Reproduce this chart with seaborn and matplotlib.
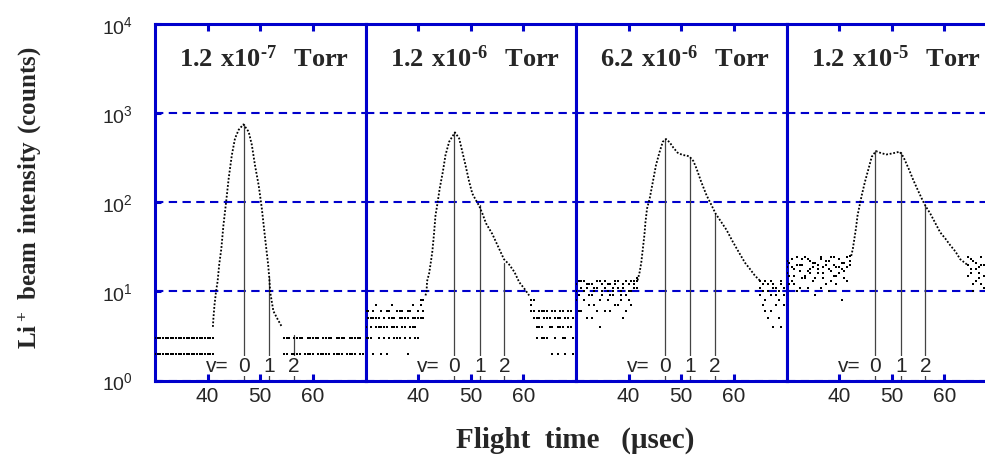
import numpy as np
import pandas as pd
import matplotlib
matplotlib.use('Agg')
import matplotlib.pyplot as plt
import seaborn as sns

# panel labels (gas pressure, Torr) as mantissa and negative exponent
press_mant = ['1.2', '1.2', '6.2', '1.2']
press_exp = ['7', '6', '6', '5']

# vibrational level arrival times (usec) and where each marker line meets the curve
v_labels = ['0', '1', '2']
v_times = [46.9, 51.7, 56.4]
v_tops = [[748, 14.5, 3.2],
          [608, 92, 21],
          [512, 318, 73],
          [372, 369, 93]]

# main TOF profile
p1_t = [41.0, 41.1, 41.3, 41.6, 41.9, 42.2, 42.6, 43.0, 43.5, 44.0, 44.6, 45.2, 45.9, 46.8,
        47.8, 48.4, 49.0, 49.7, 50.3, 51.0, 51.5, 51.7, 51.9, 52.2, 52.5, 53.2, 54.1]
p1_c = [4, 5, 7, 10, 13, 20, 30, 55, 99, 185, 338, 520, 650, 748,
        618, 440, 260, 155, 85, 36, 20, 14.5, 9.8, 7.6, 6, 5, 4]

p2_t = [41.4, 41.6, 41.7, 42.1, 42.4, 42.7, 43.0, 43.3, 43.7, 44.1, 44.7, 45.2, 45.9, 47.0,
        47.8, 48.4, 49.0, 49.7, 50.3, 51.0, 51.6, 52.2, 52.9, 54.1, 55.4, 56.3, 57.3, 58.3,
        59.2, 60.2, 61.1]
p2_c = [9, 10, 13, 16, 21, 28, 43, 71, 99, 143, 220, 338, 478, 608,
        520, 369, 261, 170, 125, 105, 91, 75, 58, 44, 30, 23, 20, 16.5,
        12.7, 10.7, 9]

p3_t = [41.7, 42.1, 42.4, 42.7, 43.0, 43.2, 43.5, 44.0, 44.6, 45.2, 45.9, 46.5, 47.1, 47.8,
        48.5, 49.3, 50.3, 51.0, 51.6, 52.3, 52.9, 53.8, 54.8, 55.7, 56.5, 57.6, 58.6, 59.8,
        61.1, 62.1, 63.0, 64.0, 64.9]
p3_c = [13.3, 16.5, 21, 30, 43, 60, 85, 110, 169, 261, 369, 478, 512, 470,
        410, 360, 338, 335, 324, 290, 239, 169, 120, 94, 75, 60, 49, 36,
        26.5, 21, 18, 15, 13.3]

p4_t = [42.3, 42.6, 42.9, 43.2, 43.5, 44.0, 44.3, 44.9, 45.6, 46.2, 47.0, 48.0, 49.0, 50.0,
        51.5, 52.2, 53.2, 54.1, 55.1, 56.0, 56.5, 57.3, 58.3, 59.2, 60.2, 61.1, 62.1, 63.0, 64.3]
p4_c = [25, 30, 39, 51, 71, 99, 120, 169, 239, 324, 375, 355, 344, 352,
        369, 324, 239, 177, 131, 101, 89, 75, 58, 46, 39, 33, 28, 23, 20]

# background counts (readings per 0.5 usec bin) on either side of the peak
p1_left = [[2, 2, 3, 2, 2, 2, 3, 2, 2, 2, 2, 3, 2, 2, 2, 2, 3, 2, 2, 2, 2, 3, 2],
           [3, 3, 2, 3, 3, 3, 2, 3, 3, 3, 3, 2, 3, 3, 3, 3, 2, 3, 3, 3, 3, 2, 3]]
p1_right = [[2, 2, 3, 2, 2, 2, 2, 3, 2, 2, 2, 2, 3, 2, 2, 2, 2, 2, 3, 2, 2, 2, 2, 3, 2, 2, 2, 2, 3, 2, 2, 2],
            [3, 3, 3, 2, 3, 3, 3, 3, 2, 3, 3, 3, 3, 3, 2, 3, 3, 3, 3, 2, 3, 3, 3, 3, 2, 3, 3, 3, 3, 3, 2, 3]]

p2_left = [[4, 5, 3, 6, 4, 5, 2, 4, 6, 3, 5, 4, 6, 3, 4, 5, 2, 6, 4, 5, 3, 7, 5],
           [6, 3, 5, 2, 5, 4, 6, 3, 4, 5, 7, 3, 4, 6, 5, 3, 6, 4, 5, 3, 6, 5, 8],
           [3, 6, 4, 5, 7, 3, 4, 5, 2, 6, 4, 5, 3, 5, 6, 4, 5, 3, 7, 4, 5, 8, 6]]
p2_right = [[8, 6, 5, 4, 6, 3, 5, 4, 6, 3, 5, 4, 6, 2, 5, 4, 3, 6],
            [7, 5, 4, 6, 3, 5, 6, 4, 2, 5, 4, 6, 3, 5, 4, 6, 5, 3],
            [6, 8, 3, 5, 4, 6, 3, 5, 4, 6, 2, 5, 4, 3, 6, 4, 2, 5]]

p3_left = [[12, 9, 13, 8, 11, 7, 12, 10, 6, 13, 9, 11, 8, 12, 10, 7, 13, 9, 11, 6, 12, 10, 13, 11],
           [8, 13, 6, 10, 12, 9, 5, 11, 13, 8, 10, 6, 12, 9, 11, 13, 7, 10, 12, 9, 8, 13, 11, 14],
           [10, 6, 11, 13, 5, 12, 9, 7, 11, 4, 12, 13, 10, 6, 9, 12, 11, 8, 5, 13, 10, 7, 12, 13]]
p3_right = [[13, 10, 8, 12, 6, 11, 9, 5, 13, 7, 10],
            [9, 12, 6, 10, 13, 4, 11, 8, 12, 9, 6],
            [11, 7, 13, 5, 9, 12, 7, 10, 4, 11, 13]]

p4_left = [[22, 15, 19, 12, 24, 17, 20, 14, 23, 18, 13, 21, 16, 24, 19, 12, 22, 17, 20, 15, 23, 18, 21, 24, 25],
           [16, 21, 13, 18, 20, 11, 23, 15, 17, 22, 19, 14, 20, 11, 16, 22, 18, 13, 24, 19, 16, 21, 14, 19, 22],
           [19, 12, 23, 15, 10, 20, 14, 24, 11, 16, 21, 9, 18, 23, 14, 20, 10, 24, 15, 12, 19, 8, 17, 13, 20]]
p4_right = [[20, 16, 22, 13, 19, 24, 15, 18, 12, 21, 17, 23],
            [15, 23, 12, 18, 14, 20, 11, 16, 22, 13, 19, 10],
            [24, 18, 10, 21, 16, 12, 20, 14, 17, 9, 15, 20]]

# first time bin of each background block
left_start = [30.0, 30.0, 30.0, 30.0]
right_start = [54.5, 61.5, 65.0, 64.5]

profiles = [(p1_t, p1_c), (p2_t, p2_c), (p3_t, p3_c), (p4_t, p4_c)]
backgrounds = [(p1_left, p1_right), (p2_left, p2_right), (p3_left, p3_right), (p4_left, p4_right)]

sns.set_theme(style='white')
plt.rcParams['mathtext.fontset'] = 'custom'
plt.rcParams['mathtext.rm'] = 'Liberation Sans'
plt.rcParams['mathtext.bf'] = 'Liberation Serif:bold'
plt.rcParams['font.family'] = ['Liberation Sans', 'DejaVu Sans']

blue = '#0000cc'
fig = plt.figure(figsize=(9.85, 4.6), dpi=100)

W = 985.0
H = 460.0
panel_w = 210.5
x0 = 155.0
y_bot = 381.5
y_top = 25.0

axes = []
for i in range(4):
    ax = fig.add_axes([(x0 + i * panel_w) / W, (H - y_bot) / H,
                       panel_w / W, (y_bot - y_top) / H])
    axes.append(ax)

for i, ax in enumerate(axes):
    t, c = profiles[i]
    prof = pd.DataFrame({'t': t, 'c': c})
    rows = []
    for side, start in zip(backgrounds[i], [left_start[i], right_start[i]]):
        for reading in side:
            for k, val in enumerate(reading):
                rows.append((start + 0.5 * k, val))
    bg = pd.DataFrame(rows, columns=['t', 'c'])

    ax.set_yscale('log')
    ax.set_xlim(30, 70)
    ax.set_ylim(1, 1e4)

    sns.scatterplot(data=bg, x='t', y='c', ax=ax, color='black', marker='s',
                    s=1.6, linewidth=0, zorder=3)
    sns.lineplot(data=prof, x='t', y='c', ax=ax, color='black', lw=1.3,
                 linestyle=(0, (1, 1.0)), zorder=3)

    for vt, top in zip(v_times, v_tops[i]):
        ax.plot([vt, vt], [1, top], color='#444444', lw=0.9, zorder=2)
    for vt, lab in zip(v_times, v_labels):
        ax.text(vt, 1.47, lab, ha='center', va='center', fontsize=15,
                bbox=dict(facecolor='white', edgecolor='none', pad=0.3), zorder=4)
    ax.text(44.0, 1.47, 'v=', ha='right', va='center', fontsize=15, zorder=4)

    title = (r'$\mathbf{' + press_mant[i] + r'\ x10^{' + '\u2010' + press_exp[i]
             + r'}\ \ Torr}$')
    ax.text(0.52, 0.905, title, transform=ax.transAxes,
            ha='center', va='center', fontsize=19)

    ax.grid(False)
    ax.yaxis.grid(True, which='major', color=blue, lw=1.5, linestyle=(0, (4, 2.6)))
    ax.yaxis.set_minor_locator(matplotlib.ticker.NullLocator())
    ax.set_xticks([40, 50, 60])
    for sp in ax.spines.values():
        sp.set_color(blue)
        sp.set_linewidth(2.2)
    ax.tick_params(axis='x', which='major', direction='in', top=True, bottom=True,
                   length=5, width=2.2, color=blue, labelsize=15, pad=4)
    if i == 0:
        ax.tick_params(axis='y', which='major', direction='in', left=True,
                       length=4, width=2.2, color=blue, labelsize=14, pad=16)
    else:
        ax.tick_params(axis='y', left=False, labelleft=False)
    ax.set_xlabel('')
    ax.set_ylabel('')

fig.text(575 / W, 1 - 440 / H, 'Flight  time   (\u03bcsec)', ha='center', va='center',
         fontsize=21, fontweight='bold', family='Liberation Serif')
fig.text(30 / W, 1 - 198 / H, r'$\mathbf{Li^+\ beam\ intensity\ (counts)}$',
         rotation=90, ha='center', va='center', fontsize=18)

fig.savefig('out.png', dpi=100)
